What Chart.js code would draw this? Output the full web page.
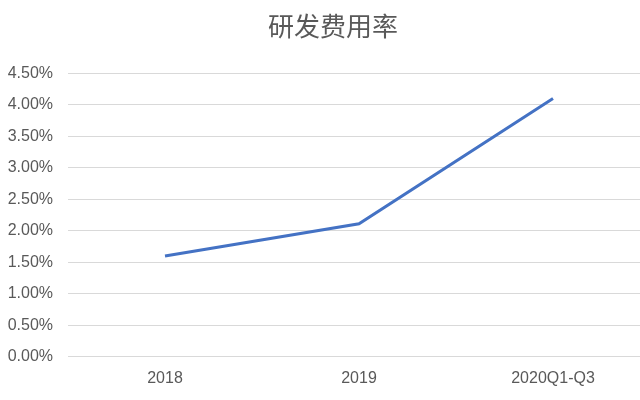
<!DOCTYPE html>
<html>
<head>
<meta charset="utf-8">
<script src="https://cdn.jsdelivr.net/npm/chart.js@4/dist/chart.umd.min.js"></script>
<style>
html,body{margin:0;padding:0;background:#fff;overflow:hidden;}
#wrap{width:666px;height:400px;position:relative;}
</style>
</head>
<body>
<div id="wrap"><canvas id="c"></canvas></div>
<script>
const categories = ["2018", "2019", "2020Q1-Q3"];
const rdRate = [1.60, 2.11, 4.10];
const titleText = "研发费用率";
const yMin = 0, yMax = 4.5, yStep = 0.5;

const shiftTitle = {
  id: 'shiftTitle',
  afterLayout(chart) {
    if (chart.titleBlock) { chart.titleBlock.left += 12; }
  }
};

new Chart(document.getElementById('c'), {
  type: 'line',
  data: {
    labels: categories,
    datasets: [{
      data: rdRate,
      borderColor: '#4472C4',
      borderWidth: 3,
      pointRadius: 0,
      tension: 0,
      fill: false
    }]
  },
  plugins: [shiftTitle],
  options: {
    responsive: true,
    maintainAspectRatio: false,
    animation: false,
    layout: { padding: { left: 4, right: 16, top: 7, bottom: 0 } },
    plugins: {
      legend: { display: false },
      tooltip: { enabled: false },
      title: {
        display: true,
        text: titleText,
        color: '#595959',
        font: { family: "'Noto Sans CJK SC', sans-serif", size: 26, weight: 'normal', lineHeight: 1.2 },
        padding: { top: 4, bottom: 31 }
      }
    },
    scales: {
      x: {
        offset: true,
        grid: { display: false, drawTicks: false },
        border: { display: false },
        ticks: {
          color: '#595959',
          font: { family: "'Liberation Sans', Arial, sans-serif", size: 16 },
          padding: 12
        }
      },
      y: {
        min: yMin,
        max: yMax,
        grid: { color: '#d9d9d9', lineWidth: 1, drawTicks: false },
        border: { display: false },
        afterFit: s => { s.width = 64; },
        ticks: {
          stepSize: yStep,
          color: '#595959',
          font: { family: "'Liberation Sans', Arial, sans-serif", size: 16 },
          padding: 15,
          callback: v => v.toFixed(2) + '%'
        }
      }
    }
  }
});
</script>
</body>
</html>
